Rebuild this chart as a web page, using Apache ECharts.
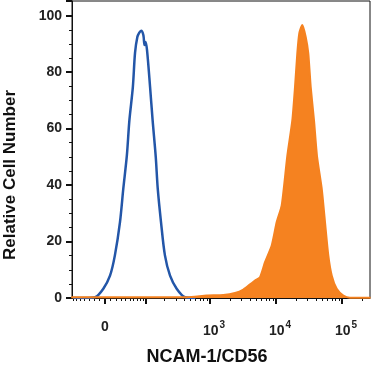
<!DOCTYPE html>
<html>
<head>
<meta charset="utf-8">
<script src="https://cdn.jsdelivr.net/npm/echarts@6/dist/echarts.min.js"></script>
<style>html,body{margin:0;padding:0;background:#fff}#c{width:371px;height:372px}</style>
</head>
<body>
<div id="c"></div>
<script>
// Fluorescence intensity (x) and relative cell number (y)
const isotypeX = [-70, -40, -18, -3, 9, 18, 28, 35, 43, 49, 58, 64, 71, 77, 83, 91, 95, 99, 105, 118, 130, 146, 157, 177, 204, 245, 310, 416, 600];
const isotypeY = [0, 0, 0.3, 3.3, 7.9, 15.1, 26.9, 38.8, 50.6, 62.9, 74.8, 86.8, 92.5, 94.0, 94.7, 93.1, 89.6, 90.7, 87.8, 74.8, 62.9, 50.0, 38.8, 26.9, 15.1, 7.9, 3.3, 0.3, 0];
const ncamX = [-75, 0, 150, 300, 441, 889, 1587, 2388, 3190, 4129, 4797, 5711, 6799, 8594, 10230, 12178, 14805, 17626, 19372, 20982, 22502, 24983, 28134, 30797, 33485, 37581, 41700, 49152, 55142, 61875, 69683, 82944, 104448, 131917, 270000];
const ncamY = [0.3, 0.3, 0.3, 0.3, 0.3, 0.9, 1.1, 1.8, 3.0, 5.0, 6.2, 7.4, 12.7, 18.6, 26.9, 32.8, 50.3, 62.9, 74.8, 86.7, 93.8, 96.7, 92.5, 86.7, 74.8, 62.9, 50.3, 38.8, 26.9, 15.1, 8.0, 3.3, 0.9, 0.1, 0.1];
const xLabelValues = [0, 1e3, 1e4, 1e5];
const xLabelTexts = ['0', '{b|10}{s|3}', '{b|10}{s|4}', '{b|10}{s|5}'];
const xMajorTickValues = [0, 100, 1e3, 1e4, 1e5];
const yTickLabels = [0, 20, 40, 60, 80, 100];

// biexponential (arcsinh) display transform
const W = 25.6;
const biex = v => Math.asinh(v / (2 * W)) / Math.LN10;

const minorVals = [];
for (let k = 1; k <= 5; k++) {
  for (let m = 1; m <= 9; m++) {
    const v = m * Math.pow(10, k);
    if (k >= 2 && m === 1) continue;
    if (v < 3e5) minorVals.push(biex(v));
    if (k === 1) minorVals.push(biex(-v));
  }
}

const xMin = -0.5, xMax = 4.015;
const chart = echarts.init(document.getElementById('c'), null, {renderer: 'canvas'});
const font = '"Liberation Sans", Arial, sans-serif';
chart.setOption({
  animation: false,
  grid: {left: 72, right: 1, top: 1, bottom: 74, show: true, borderColor: '#111', borderWidth: 1},
  xAxis: [{
    type: 'value', min: xMin, max: xMax, position: 'bottom',
    axisLine: {show: true, onZero: false, lineStyle: {color: '#111', width: 1}},
    axisTick: {show: true, length: 6, lineStyle: {color: '#111', width: 2}, customValues: xMajorTickValues.map(biex)},
    splitLine: {show: false},
    axisLabel: {
      margin: 22, color: '#222', fontFamily: font, fontWeight: 'bold', fontSize: 14,
      customValues: xLabelValues.map(biex),
      formatter: function (val) {
        let best = 0, bd = 1e9;
        xLabelValues.forEach((v, i) => { const d = Math.abs(biex(v) - val); if (d < bd) { bd = d; best = i; } });
        return xLabelTexts[best];
      },
      rich: {
        b: {fontSize: 14, fontWeight: 'bold', fontFamily: font, color: '#222', padding: [0, 0, 0, 8]},
        s: {fontSize: 10, fontWeight: 'bold', fontFamily: font, color: '#222', padding: [0, 0, 12, 1]}
      }
    }
  }, {
    type: 'value', min: xMin, max: xMax, position: 'bottom',
    axisLine: {show: false, onZero: false},
    axisTick: {show: true, length: 3, lineStyle: {color: '#111', width: 1}, customValues: minorVals},
    axisLabel: {show: false},
    splitLine: {show: false}
  }],
  yAxis: {
    type: 'value', min: 0, max: 105.2, interval: 20,
    axisLine: {show: true, onZero: false, lineStyle: {color: '#111', width: 1}},
    axisTick: {show: true, length: 6, lineStyle: {color: '#111', width: 2}},
    minorTick: {show: true, splitNumber: 4, length: 3, lineStyle: {color: '#111', width: 1}},
    splitLine: {show: false},
    axisLabel: {margin: 10, color: '#222', fontFamily: font, fontWeight: 'bold', fontSize: 14,
      formatter: v => yTickLabels.includes(v) ? String(v) : ''}
  },
  series: [{
    type: 'line', name: 'Isotype', showSymbol: false, smooth: 0.3,
    data: isotypeX.map((x, i) => [biex(x), isotypeY[i]]),
    lineStyle: {color: '#2356a8', width: 2.5}, itemStyle: {color: '#2356a8'}, z: 2
  }, {
    type: 'line', name: 'NCAM-1/CD56', showSymbol: false, smooth: 0.2,
    data: ncamX.map((x, i) => [biex(x), ncamY[i]]),
    lineStyle: {color: '#f58220', width: 2}, itemStyle: {color: '#f58220'},
    areaStyle: {color: '#f58220', opacity: 1}, z: 3
  }],
  graphic: [{
    type: 'text', x: 10, y: 175, rotation: Math.PI / 2,
    style: {text: 'Relative Cell Number', fontFamily: font, fontWeight: 'bold', fontSize: 17, fill: '#111', align: 'center', verticalAlign: 'middle'}
  }, {
    type: 'text', x: 207, y: 357,
    style: {text: 'NCAM-1/CD56', fontFamily: font, fontWeight: 'bold', fontSize: 18, fill: '#111', align: 'center', verticalAlign: 'middle'}
  }]
});
</script>
</body>
</html>
